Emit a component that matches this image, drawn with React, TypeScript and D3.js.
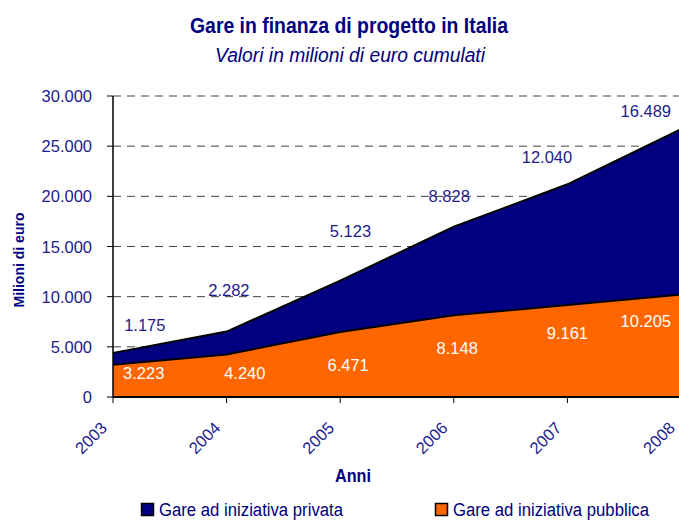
import React from "react";
import * as d3 from "d3";

const years = [2003, 2004, 2005, 2006, 2007, 2008];
const pubblica = [3223, 4240, 6471, 8148, 9161, 10205];
const privata = [1175, 2282, 5123, 8828, 12040, 16489];
const yTicks = [0, 5000, 10000, 15000, 20000, 25000, 30000];

// label anchors (year offset, value units)
const pubLabelDx = [0.27, 0.16, 0.07, 0.03, 0.0, -0.31];
const pubLabelY = [2392, 2392, 3189, 4884, 6379, 7575];
const privLabelDx = [0.28, 0.02, 0.09, -0.04, -0.18, -0.31];
const privLabelY = [7176, 10665, 16545, 20034, 23920, 28506];

const NAVY = "#000080";
const LABEL_NAVY = "#1c1c8c";
const ORANGE = "#FF6600";
const FONT = "'Liberation Sans', Arial, sans-serif";

const fmt = (v: number) => d3.format(",")(v).replace(/,/g, ".");

export default function App() {
  const W = 679, H = 520;
  const left = 113, right = 681, top = 96, bottom = 397;
  const x = d3.scaleLinear().domain([2003, 2008]).range([left, right]);
  const y = d3.scaleLinear().domain([0, 30000]).range([bottom, top]);

  const rows = years.map((yr, i) => ({ yr, pub: pubblica[i], priv: privata[i] }));
  const stack = d3.stack<any>().keys(["pub", "priv"])(rows);
  const area = d3.area<any>().x((d) => x(d.data.yr)).y0((d) => y(d[0])).y1((d) => y(d[1]));
  const topLine = d3.line<any>().x((d) => x(d.data.yr)).y((d) => y(d[1]));

  return (
    <svg width={W} height={H} style={{ position: "absolute", left: 0, top: 0, background: "#fff" }} fontFamily={FONT}>
      <text x={349} y={33} textAnchor="middle" fontSize={22} fill={NAVY} fontWeight="bold"
        textLength={318} lengthAdjust="spacingAndGlyphs">
        Gare in finanza di progetto in Italia
      </text>
      <text x={350} y={62} textAnchor="middle" fontSize={20} fill={NAVY} fontStyle="italic"
        textLength={270} lengthAdjust="spacingAndGlyphs">
        Valori in milioni di euro cumulati
      </text>

      {yTicks.filter((t) => t > 0).map((t) => (
        <line key={t} x1={left} x2={right} y1={y(t)} y2={y(t)} stroke="#444" strokeWidth={1} strokeDasharray="8,6" />
      ))}

      <path d={area(stack[0] as any) || ""} fill={ORANGE} />
      <path d={area(stack[1] as any) || ""} fill={NAVY} />
      <path d={topLine(stack[0] as any) || ""} fill="none" stroke="#000" strokeWidth={2} />
      <path d={topLine(stack[1] as any) || ""} fill="none" stroke="#000" strokeWidth={2} />

      {/* axes */}
      <line x1={left} x2={left} y1={top} y2={bottom} stroke="#000" strokeWidth={1.5} />
      <line x1={left} x2={right} y1={bottom} y2={bottom} stroke="#000" strokeWidth={2} />
      {yTicks.map((t) => (
        <g key={t}>
          <line x1={left - 6} x2={left} y1={y(t)} y2={y(t)} stroke="#000" strokeWidth={1} />
          <text x={92} y={y(t) + 6} textAnchor="end" fontSize={16.5} fill={LABEL_NAVY}>
            {fmt(t)}
          </text>
        </g>
      ))}
      {years.map((yr) => (
        <g key={yr}>
          <line x1={x(yr)} x2={x(yr)} y1={bottom} y2={bottom + 6} stroke="#000" strokeWidth={1} />
          <text
            transform={`translate(${x(yr) - 5},${bottom + 32}) rotate(-45)`}
            textAnchor="end"
            fontSize={16.5}
            fill={LABEL_NAVY}
          >
            {yr}
          </text>
        </g>
      ))}

      {/* data labels */}
      {years.map((yr, i) => (
        <text key={"p" + yr} x={x(yr + pubLabelDx[i])} y={y(pubLabelY[i]) + 6} textAnchor="middle" fontSize={16.5} fill="#fff">
          {fmt(pubblica[i])}
        </text>
      ))}
      {years.map((yr, i) => (
        <text key={"v" + yr} x={x(yr + privLabelDx[i])} y={y(privLabelY[i]) + 6} textAnchor="middle" fontSize={16.5} fill={LABEL_NAVY}>
          {fmt(privata[i])}
        </text>
      ))}

      <text x={353} y={482} textAnchor="middle" fontSize={19} fill={NAVY} fontWeight="bold"
        textLength={36} lengthAdjust="spacingAndGlyphs">
        Anni
      </text>
      <text transform="translate(24,260) rotate(-90)" textAnchor="middle" fontSize={15} fill={NAVY} fontWeight="bold"
        textLength={95} lengthAdjust="spacingAndGlyphs">
        Milioni di euro
      </text>

      {/* legend */}
      <rect x={141.5} y={503.5} width={12} height={12} fill={NAVY} stroke="#000" strokeWidth={1.5} />
      <text x={159} y={515.5} fontSize={18} fill={NAVY} textLength={184} lengthAdjust="spacingAndGlyphs">
        Gare ad iniziativa privata
      </text>
      <rect x={435.5} y={503.5} width={12} height={12} fill={ORANGE} stroke="#000" strokeWidth={1.5} />
      <text x={453} y={515.5} fontSize={18} fill={NAVY} textLength={196} lengthAdjust="spacingAndGlyphs">
        Gare ad iniziativa pubblica
      </text>
    </svg>
  );
}
